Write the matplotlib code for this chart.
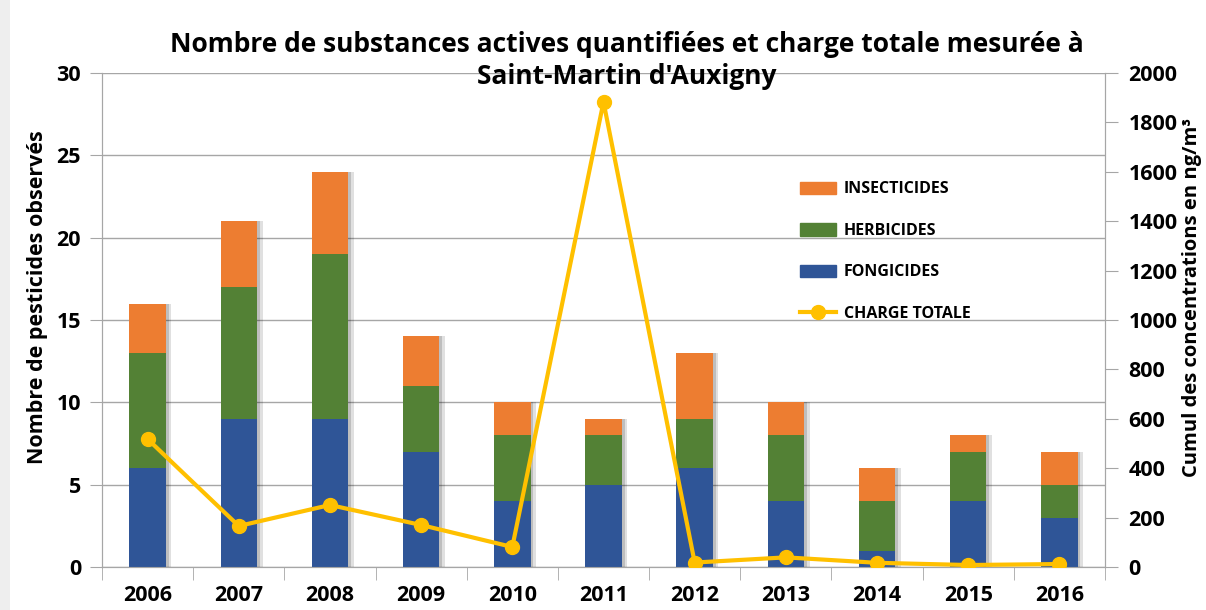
import matplotlib
matplotlib.use("Agg")
import matplotlib.pyplot as plt
import matplotlib.patheffects as pe
from matplotlib.lines import Line2D
from matplotlib.patches import Patch, Rectangle
import numpy as np

years = ["2006", "2007", "2008", "2009", "2010", "2011", "2012", "2013", "2014", "2015", "2016"]
fongicides = [6, 9, 9, 7, 4, 5, 6, 4, 1, 4, 3]
herbicides = [7, 8, 10, 4, 4, 3, 3, 4, 3, 3, 2]
insecticides = [3, 4, 5, 3, 2, 1, 4, 2, 2, 1, 2]
charge_totale = [518, 166, 251, 170, 81, 1883, 18, 39, 17, 8, 12]

C_BLUE = "#2F5597"
C_GREEN = "#538135"
C_ORANGE = "#ED7D31"
C_LINE = "#FFC000"

plt.rcParams['font.family'] = ['Open Sans', 'DejaVu Sans']
TICK_FS = 15.5

fig = plt.figure(figsize=(12.06, 6.10), dpi=100)
fig.patches.append(Rectangle((0, 0), 10/1206, 1, transform=fig.transFigure,
                             facecolor="#EEEEEE", edgecolor="none", zorder=0))
ax = fig.add_axes([102/1206, 1 - 567/610, (1105 - 102)/1206, (567 - 73)/610])
ax2 = ax.twinx()

x = np.arange(len(years))
w = 0.4
shadow = [pe.SimplePatchShadow(offset=(4, 0), shadow_rgbFace="#000000", alpha=0.12),
          pe.SimplePatchShadow(offset=(2, 0), shadow_rgbFace="#000000", alpha=0.15),
          pe.Normal()]
f = np.array(fongicides)
h = np.array(herbicides)
i_ = np.array(insecticides)
ax.bar(x, f, w, color=C_BLUE, zorder=3, path_effects=shadow)
ax.bar(x, h, w, bottom=f, color=C_GREEN, zorder=3, path_effects=shadow)
ax.bar(x, i_, w, bottom=f + h, color=C_ORANGE, zorder=3, path_effects=shadow)

ax.set_ylim(0, 30)
ax.set_xlim(-0.5, len(years) - 0.5)
ax.set_yticks(np.arange(0, 31, 5))
ax.yaxis.grid(True, color="#A6A6A6", linewidth=1.0, zorder=0)
ax.set_axisbelow(True)
ax.set_xticks(x)
ax.set_xticklabels(years, fontsize=TICK_FS, fontweight='bold')
ax.set_xticks(np.arange(-0.5, len(years), 1), minor=True)
ax.tick_params(axis='x', which='major', length=0, pad=13)
ax.tick_params(axis='x', which='minor', length=9, color="#A6A6A6", direction='out')
ax.tick_params(axis='y', length=9, color="#A6A6A6", labelsize=TICK_FS, pad=6)
for t in ax.get_yticklabels():
    t.set_fontweight('bold')
ax.spines["top"].set_visible(False)
ax2.spines["top"].set_visible(False)
for s in ["left", "bottom", "right"]:
    ax.spines[s].set_color("#A6A6A6")
    ax2.spines[s].set_color("#A6A6A6")

ax2.set_zorder(ax.get_zorder() + 1)
ax2.patch.set_visible(False)
ax2.plot(x, charge_totale, color=C_LINE, linewidth=3, marker='o', markersize=10,
         markerfacecolor=C_LINE, markeredgecolor=C_LINE, zorder=5)
ax2.set_ylim(0, 2000)
ax2.set_yticks(np.arange(0, 2001, 200))
ax2.tick_params(axis='y', length=9, color="#A6A6A6", labelsize=TICK_FS, pad=8)
for t in ax2.get_yticklabels():
    t.set_fontweight('bold')

fig.text(38/1206, 1 - 297/610, "Nombre de pesticides observés", rotation=90,
         fontsize=15.5, fontweight='bold', ha='center', va='center')
fig.text(1192/1206, 1 - 298/610, "Cumul des concentrations en ng/m³", rotation=90,
         fontsize=14.5, fontweight='bold', ha='center', va='center')

fig.text(627/1206, 1 - 52/610, "Nombre de substances actives quantifiées et charge totale mesurée à",
         fontsize=19, fontweight='bold', ha='center', va='baseline')
fig.text(627/1206, 1 - 84/610, "Saint-Martin d'Auxigny",
         fontsize=19, fontweight='bold', ha='center', va='baseline')

handles = [Patch(color=C_ORANGE), Patch(color=C_GREEN), Patch(color=C_BLUE),
           Line2D([0], [0], color=C_LINE, linewidth=3, marker='o', markersize=10)]
labels = ["INSECTICIDES", "HERBICIDES", "FONGICIDES", "CHARGE TOTALE"]
leg = ax2.legend(handles, labels, loc='upper left', bbox_to_anchor=(692/1003, 1 - 102/494),
                 frameon=False, fontsize=11.5, labelspacing=1.6, handlelength=2.2,
                 handleheight=0.8, handletextpad=0.5, borderaxespad=0)
for t in leg.get_texts():
    t.set_fontweight('bold')

fig.savefig("out.png", dpi=100, facecolor="white")
